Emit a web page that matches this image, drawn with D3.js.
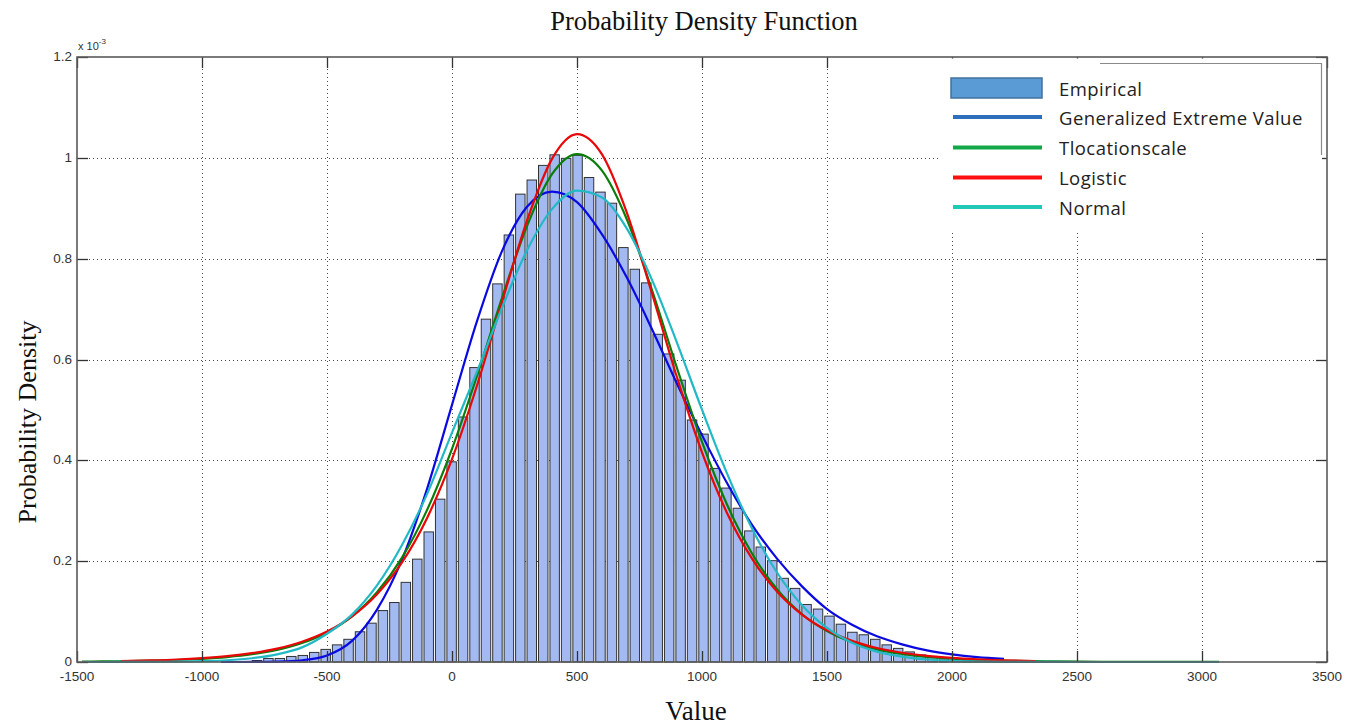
<!DOCTYPE html>
<html>
<head>
<meta charset="utf-8">
<script src="https://cdn.jsdelivr.net/npm/d3@7"></script>
<style>
  body { margin: 0; background: #fff; }
  svg { display: block; }
</style>
</head>
<body>
<svg id="chart" width="1355" height="727"></svg>
<script>
// Histogram: regular bins starting at binStart, densities in units of 1e-3
const binStart = -803;
const binWidth = 45.8;
const empiricalDensity = [
  0.003, 0.007, 0.007, 0.011, 0.013, 0.019, 0.025, 0.034, 0.045, 0.060,
  0.077, 0.102, 0.118, 0.158, 0.204, 0.258, 0.323, 0.397, 0.486, 0.584,
  0.680, 0.750, 0.847, 0.928, 0.956, 0.985, 1.006, 0.999, 1.005, 0.961,
  0.932, 0.910, 0.822, 0.779, 0.752, 0.650, 0.611, 0.559, 0.480, 0.452,
  0.384, 0.345, 0.305, 0.260, 0.228, 0.201, 0.166, 0.146, 0.114, 0.105,
  0.091, 0.075, 0.059, 0.054, 0.045, 0.034, 0.027, 0.020, 0.014, 0.011,
  0.006, 0.004, 0.003, 0.002, 0.002, 0.001
];

// Fitted density curves (x in data units, y in units of 1e-3)
const gevX = [-924, -800, -700, -600, -500, -400, -300, -200, -100, 0, 100, 200, 300, 400, 500, 600, 700, 800, 900, 1000, 1100, 1200, 1300, 1400, 1500, 1600, 1700, 1800, 1900, 2000, 2100, 2208];
const gevY = [0, 0.0001, 0.0008, 0.0035, 0.013, 0.042, 0.104, 0.203, 0.343, 0.510, 0.676, 0.815, 0.903, 0.933, 0.912, 0.848, 0.762, 0.660, 0.552, 0.450, 0.355, 0.272, 0.205, 0.150, 0.105, 0.074, 0.051, 0.035, 0.023, 0.015, 0.0095, 0.006];

const tlsX = [-1480, -1400, -1300, -1200, -1100, -1000, -900, -800, -700, -600, -500, -400, -300, -200, -100, 0, 100, 200, 300, 400, 500, 600, 700, 800, 900, 1000, 1100, 1200, 1300, 1400, 1500, 1600, 1700, 1800, 1900, 2000, 2100, 2200, 2400, 2600, 2800, 3068];
const tlsY = [0.0008, 0.0011, 0.0017, 0.0026, 0.0040, 0.0063, 0.0098, 0.0153, 0.0240, 0.0376, 0.0586, 0.0907, 0.1385, 0.2071, 0.3013, 0.4229, 0.5676, 0.7223, 0.8647, 0.9675, 1.0074, 0.9746, 0.8772, 0.7376, 0.5829, 0.4365, 0.3123, 0.2153, 0.1443, 0.0947, 0.0613, 0.0393, 0.0251, 0.0160, 0.0102, 0.0066, 0.0042, 0.0027, 0.0012, 0.0005, 0.0002, 0.0001];

const logisticX = [-1324, -1200, -1100, -1000, -900, -800, -700, -600, -500, -400, -300, -200, -100, 0, 100, 200, 300, 400, 500, 600, 700, 800, 900, 1000, 1100, 1200, 1300, 1400, 1500, 1600, 1700, 1800, 1900, 2000, 2100, 2200, 2336];
const logisticY = [0.0020, 0.0033, 0.0050, 0.0077, 0.0116, 0.0176, 0.0266, 0.0402, 0.0604, 0.0906, 0.1345, 0.1975, 0.2853, 0.4024, 0.5484, 0.7140, 0.8755, 0.9980, 1.0469, 1.0067, 0.8902, 0.7309, 0.5644, 0.4158, 0.2957, 0.2051, 0.1399, 0.0942, 0.0629, 0.0419, 0.0277, 0.0183, 0.0121, 0.0080, 0.0053, 0.0035, 0.0020];

const normalX = [-1480, -1400, -1300, -1200, -1100, -1000, -900, -800, -700, -600, -500, -400, -300, -200, -100, 0, 100, 200, 300, 400, 500, 600, 700, 800, 900, 1000, 1100, 1200, 1300, 1400, 1500, 1600, 1700, 1800, 1900, 2000, 2100, 2200, 2400, 2600, 2800, 3068];
const normalY = [0.00001, 0.00004, 0.0001, 0.0003, 0.0007, 0.0016, 0.0035, 0.0075, 0.0152, 0.0290, 0.0560, 0.0940, 0.1520, 0.2320, 0.3330, 0.4550, 0.5760, 0.7026, 0.8166, 0.8983, 0.9351, 0.9213, 0.8591, 0.7580, 0.6331, 0.5004, 0.3742, 0.2649, 0.1775, 0.1125, 0.0675, 0.0383, 0.0206, 0.0105, 0.0050, 0.0023, 0.0010, 0.0004, 0.0001, 0, 0, 0];

// Axis ticks
const xTicks = [-1500, -1000, -500, 0, 500, 1000, 1500, 2000, 2500, 3000, 3500];
const yTicks = [0, 0.2, 0.4, 0.6, 0.8, 1.0, 1.2];
const yTickLabels = ["0", "0.2", "0.4", "0.6", "0.8", "1", "1.2"];

// Legend entries
const legendLabels = ["Empirical", "Generalized Extreme Value", "Tlocationscale", "Logistic", "Normal"];
const legendColors = ["#5b9bd5", "#2e6fbb", "#12a84a", "#ff1010", "#22c8b6"];

const svg = d3.select("#chart");
const plotLeft = 77, plotRight = 1327, plotTop = 57, plotBottom = 662;

const x = d3.scaleLinear().domain([-1500, 3500]).range([plotLeft, plotRight]);
const y = d3.scaleLinear().domain([0, 1.2]).range([plotBottom, plotTop]);

// Dotted grid
const grid = svg.append("g").attr("stroke", "#4a4a4a").attr("stroke-width", 1).attr("stroke-dasharray", "1,3");
grid.selectAll("line.v").data(xTicks.slice(1, -1)).join("line")
  .attr("x1", d => Math.round(x(d)) + 0.5).attr("x2", d => Math.round(x(d)) + 0.5)
  .attr("y1", plotTop).attr("y2", plotBottom);
grid.selectAll("line.h").data(yTicks.slice(1, -1)).join("line")
  .attr("y1", d => Math.round(y(d)) + 0.5).attr("y2", d => Math.round(y(d)) + 0.5)
  .attr("x1", plotLeft).attr("x2", plotRight);

// Histogram bars
const barPx = x(binWidth) - x(0);
svg.append("g").selectAll("rect").data(empiricalDensity).join("rect")
  .attr("x", (d, i) => x(binStart + i * binWidth) + 1)
  .attr("width", barPx - 2)
  .attr("y", d => y(d))
  .attr("height", d => y(0) - y(d))
  .attr("fill", "#a2b9f2")
  .attr("stroke", "#333")
  .attr("stroke-width", 1);

// Fitted curves
const line = d3.line().x(d => x(d[0])).y(d => y(d[1])).curve(d3.curveMonotoneX);
const curves = [
  { xs: gevX, ys: gevY, color: "#0a0ae0" },
  { xs: tlsX, ys: tlsY, color: "#0a7d0a" },
  { xs: logisticX, ys: logisticY, color: "#e80808" },
  { xs: normalX, ys: normalY, color: "#22b9c6" }
];
svg.append("g").selectAll("path").data(curves).join("path")
  .attr("d", c => line(c.xs.map((v, i) => [v, c.ys[i]])))
  .attr("fill", "none")
  .attr("stroke", c => c.color)
  .attr("stroke-width", 2.2)
  .attr("stroke-linejoin", "round");

// Axes box with inward ticks on all sides
const axisColor = "#5a5a5a";
const tickLen = 11;
const axes = svg.append("g").attr("font-family", "'Liberation Sans', Arial, sans-serif").attr("font-size", 13.5).attr("fill", "#333");
const ticks = axes.append("g").attr("stroke", "#333").attr("stroke-width", 1.3);
xTicks.forEach(t => {
  const px = Math.round(x(t)) + 0.5;
  ticks.append("line").attr("x1", px).attr("x2", px).attr("y1", plotBottom).attr("y2", plotBottom - tickLen);
  ticks.append("line").attr("x1", px).attr("x2", px).attr("y1", plotTop).attr("y2", plotTop + tickLen);
});
yTicks.forEach(t => {
  const py = Math.round(y(t)) + 0.5;
  ticks.append("line").attr("y1", py).attr("y2", py).attr("x1", plotLeft).attr("x2", plotLeft + tickLen);
  ticks.append("line").attr("y1", py).attr("y2", py).attr("x1", plotRight).attr("x2", plotRight - tickLen);
});

axes.selectAll("text.xt").data(xTicks).join("text")
  .attr("x", d => x(d)).attr("y", plotBottom + 18.5)
  .attr("text-anchor", "middle").text(d => d);
axes.selectAll("text.yt").data(yTicks).join("text")
  .attr("x", plotLeft - 5).attr("y", d => y(d) + 4)
  .attr("text-anchor", "end").text((d, i) => yTickLabels[i]);

const mult = axes.append("text").attr("x", plotLeft + 1).attr("y", plotTop - 7).attr("font-size", 11);
mult.append("tspan").text("x 10");
mult.append("tspan").attr("dy", -6).attr("font-size", 8).text("-3");

// Legend panel
const legend = svg.append("g");
legend.append("rect").attr("x", 940).attr("y", 58.5).attr("width", 382).attr("height", 172).attr("fill", "#fff");
legend.append("polyline")
  .attr("points", "1100,63.5 1321.5,63.5 1321.5,155")
  .attr("fill", "none").attr("stroke", "#8a8a8a").attr("stroke-width", 1.2);

const rowY = [88, 117, 147.5, 177.5, 207];
legendLabels.forEach((lab, i) => {
  if (i === 0) {
    legend.append("rect").attr("x", 951).attr("y", 78).attr("width", 91).attr("height", 20)
      .attr("fill", legendColors[0]).attr("stroke", "#41719c").attr("stroke-width", 1.5);
  } else {
    legend.append("line").attr("x1", 953).attr("x2", 1042).attr("y1", rowY[i]).attr("y2", rowY[i])
      .attr("stroke", legendColors[i]).attr("stroke-width", 4);
  }
  legend.append("text").attr("x", 1059).attr("y", rowY[i] + 7.5)
    .attr("font-family", "'Open Sans', sans-serif").attr("font-size", 18.5)
    .attr("letter-spacing", 0.45).attr("fill", "#222")
    .text(lab);
});

// Axis box
svg.append("rect").attr("x", plotLeft).attr("y", plotTop).attr("width", plotRight - plotLeft).attr("height", plotBottom - plotTop)
  .attr("fill", "none").attr("stroke", axisColor).attr("stroke-width", 1.6);

// Titles
const serif = "'Liberation Serif', 'Times New Roman', serif";
svg.append("text").attr("x", 704).attr("y", 30).attr("text-anchor", "middle")
  .attr("font-family", serif).attr("font-size", 26.5).attr("fill", "#111").text("Probability Density Function");
svg.append("text").attr("x", 696).attr("y", 720).attr("text-anchor", "middle")
  .attr("font-family", serif).attr("font-size", 27).attr("fill", "#111").text("Value");
svg.append("text").attr("transform", "translate(36,422) rotate(-90)").attr("text-anchor", "middle")
  .attr("font-family", serif).attr("font-size", 26).attr("fill", "#111").text("Probability Density");
</script>
</body>
</html>
